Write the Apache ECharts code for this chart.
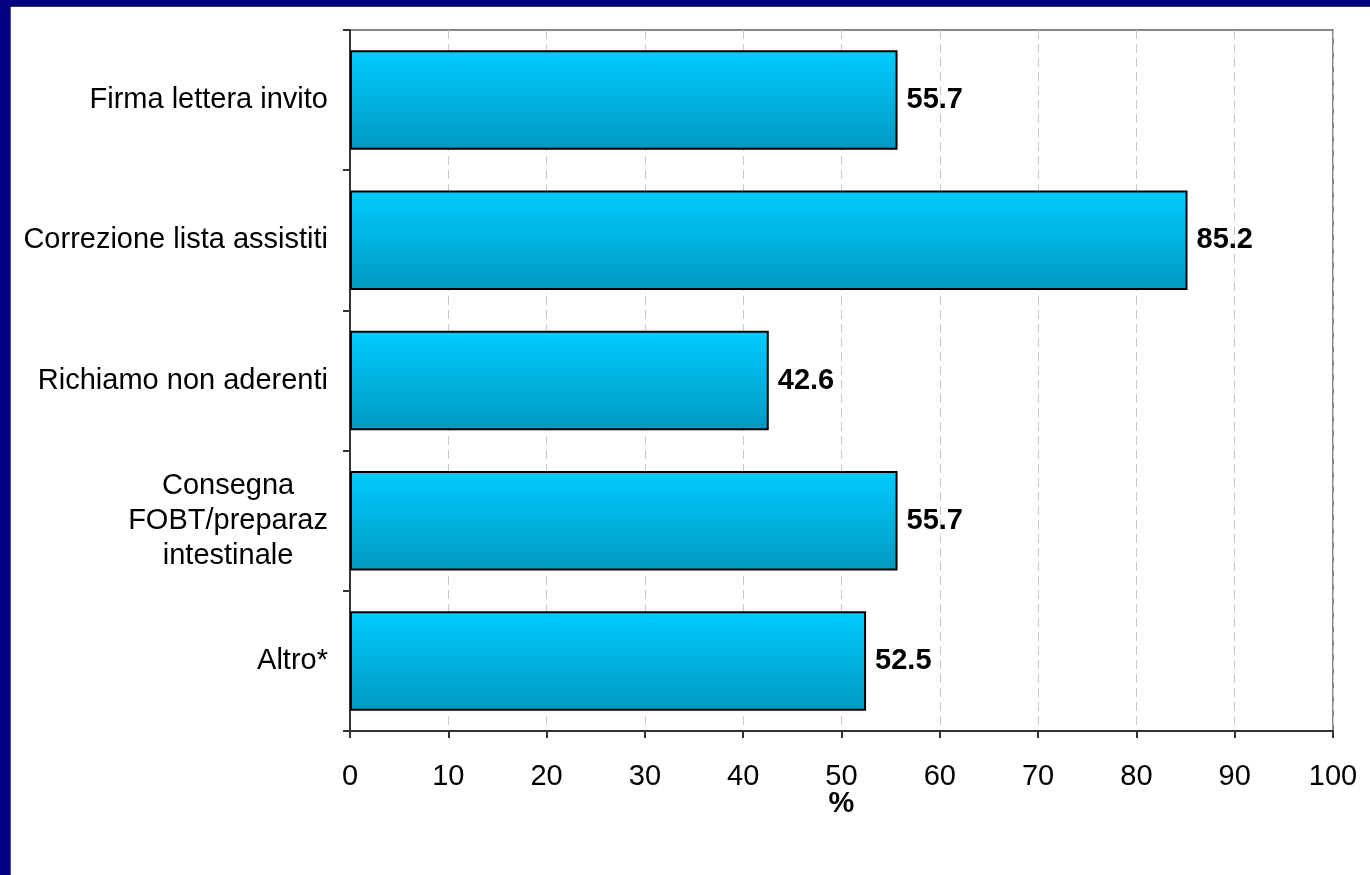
<!DOCTYPE html>
<html>
<head>
<meta charset="utf-8">
<script src="https://cdn.jsdelivr.net/npm/echarts@6/dist/echarts.min.js"></script>
<style>
html,body{margin:0;padding:0;background:#fff;}
#c{width:1370px;height:875px;}
</style>
</head>
<body>
<div id="c"></div>
<script>
const categories = ['Firma lettera invito', 'Correzione lista assistiti', 'Richiamo non aderenti', 'Consegna\nFOBT/preparaz\nintestinale', 'Altro*'];
const values = [55.7, 85.2, 42.6, 55.7, 52.5];
const xTicks = [0, 10, 20, 30, 40, 50, 60, 70, 80, 90, 100];

const chart = echarts.init(document.getElementById('c'), null, {renderer: 'canvas'});
const font = '"Liberation Sans", Arial, sans-serif';
chart.setOption({
  animation: false,
  backgroundColor: '#ffffff',
  graphic: [
    {type: 'rect', left: 0, top: 0, shape: {width: 10, height: 875}, style: {fill: '#000080'}, z: 100},
    {type: 'rect', left: 0, top: 0, shape: {width: 1370, height: 6}, style: {fill: '#000080'}, z: 100},
    {type: 'rect', left: 10, top: 6, shape: {width: 1, height: 869}, style: {fill: '#555555'}, z: 100},
    {type: 'rect', left: 10, top: 6, shape: {width: 1360, height: 1}, style: {fill: '#333333'}, z: 100}
  ],
  grid: {
    left: 350, right: 37, top: 30, bottom: 144,
    show: true, borderColor: '#888888', borderWidth: 2, backgroundColor: '#ffffff'
  },
  xAxis: {
    type: 'value', min: 0, max: 100, interval: 10,
    name: '%', nameLocation: 'middle', nameGap: 58, nameMoveOverlap: false,
    nameTextStyle: {fontFamily: font, fontSize: 29, fontWeight: 'bold', color: '#000'},
    axisLine: {show: true, lineStyle: {color: '#333333', width: 2}},
    axisTick: {show: true, length: 7, lineStyle: {color: '#333333', width: 2}},
    axisLabel: {fontFamily: font, fontSize: 29, color: '#000', margin: 31,
      formatter: v => xTicks.includes(v) ? String(v) : ''},
    splitLine: {show: true, lineStyle: {color: '#c8c8c8', type: [9, 5], width: 1}}
  },
  yAxis: {
    type: 'category', data: categories, inverse: true,
    axisLine: {show: true, lineStyle: {color: '#333333', width: 2}},
    axisTick: {show: true, length: 7, inside: false, lineStyle: {color: '#333333', width: 2}},
    axisLabel: {
      fontFamily: font, fontSize: 29, color: '#000', margin: 22, lineHeight: 35,
      formatter: v => '{a|' + v.split('\n').join('}\n{a|') + '}',
      rich: {a: {fontFamily: font, fontSize: 29, color: '#000', lineHeight: 35, align: 'center'}}
    },
    splitLine: {show: false}
  },
  series: [{
    type: 'bar',
    data: values,
    barCategoryGap: '29%',
    itemStyle: {
      color: new echarts.graphic.LinearGradient(0, 0, 0, 1, [
        {offset: 0, color: '#00CCFF'},
        {offset: 1, color: '#0099C0'}
      ]),
      borderColor: '#000000', borderWidth: 2
    },
    label: {
      show: true, position: 'right', distance: 9,
      fontFamily: font, fontSize: 29, fontWeight: 'bold', color: '#000',
      formatter: p => p.value.toFixed(1)
    }
  }]
});
</script>
</body>
</html>
